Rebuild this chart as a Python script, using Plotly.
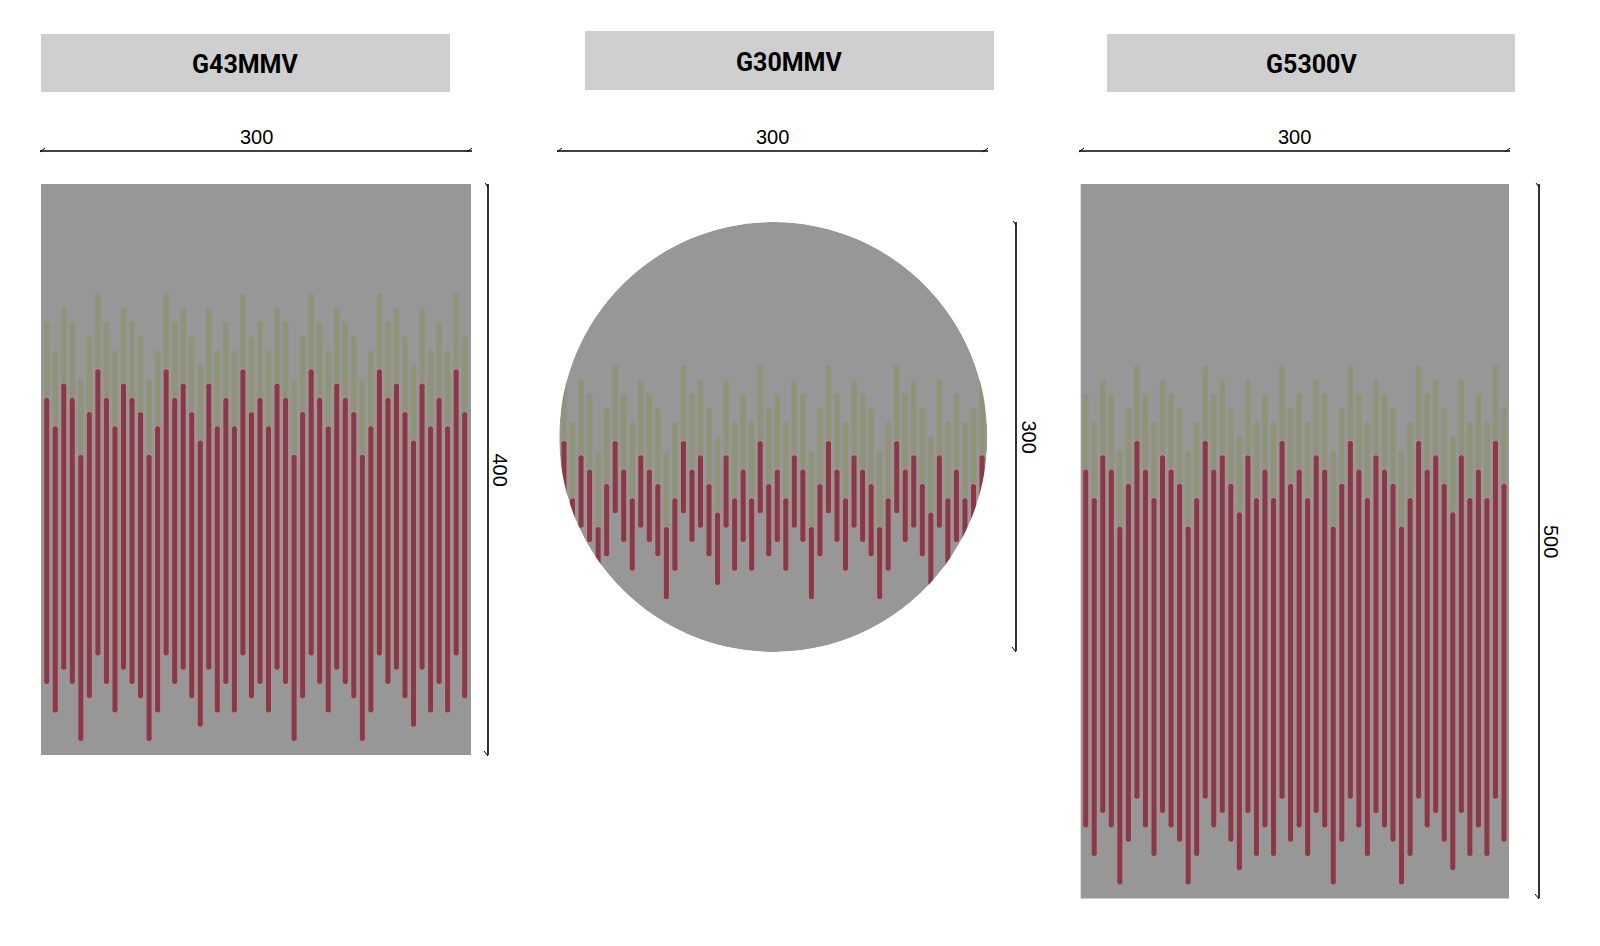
import numpy as np
import plotly.graph_objects as go

# page body has an 8px margin, so the figure is drawn 8px in from the window
PAGE_OFFSET = 8
FIG_W = 1600 - 2 * PAGE_OFFSET
FIG_H = 946 - 2 * PAGE_OFFSET

GRAY = "#979797"
GREEN = "#8f9479"
RED = "#873a47"
HALO = "#b28f90"
HEADER = "#cfcfcf"

bar_no = list(range(1, 51))

# top of the red part of each bar, mm from the bottom of the panel
g43_red_top = [250, 230, 260, 250, 210, 240, 270, 250, 230, 260, 250, 240, 210, 230, 270, 250, 260,
               240, 220, 260, 230, 250, 230, 270, 240, 250, 230, 260, 250, 210, 240, 270, 250, 230,
               260, 250, 240, 210, 230, 270, 250, 260, 240, 220, 260, 230, 250, 230, 270, 240]
g30_red_top = [147, 107, 137, 127, 87, 117, 147, 127, 107, 137, 127, 117, 87, 107, 147, 127, 137,
               117, 97, 137, 107, 127, 107, 147, 117, 127, 107, 137, 127, 87, 117, 147, 127, 107,
               137, 127, 117, 87, 107, 147, 127, 137, 117, 97, 137, 107, 127, 107, 117, 137]
g53_red_top = [300, 280, 310, 300, 260, 290, 320, 300, 280, 310, 300, 290, 260, 280, 320, 300, 310,
               290, 270, 310, 280, 300, 280, 320, 290, 300, 280, 310, 300, 260, 290, 320, 300, 280,
               310, 300, 290, 260, 280, 320, 300, 310, 290, 270, 310, 280, 300, 280, 320, 290]

# red length of the bars in each panel, green always sticks out by the same amount
red_lengths = [200, 50, 250]
green_extra = 53

names = ["G43MMV", "G30MMV", "G5300V"]
width_labels = ["300", "300", "300"]
height_labels = ["400", "300", "500"]
panel_heights = [400, 300, 500]

# round caps count towards the bar length, so the line itself stops short of the end
CAP_INSET = 1.5


def px_x(px):
    return (px - PAGE_OFFSET) / FIG_W


def px_y(py):
    return 1 - (py - PAGE_OFFSET) / FIG_H


def bar_segments(tops, lengths):
    xs, ys = [], []
    for n, top in zip(bar_no, tops):
        xs += [n, n, None]
        ys += [top - lengths + CAP_INSET, top - CAP_INSET, None]
    return xs, ys


def add_bars(fig, tops, red_len, row):
    xref, yref = ("x", "y") if row == 1 else (f"x{row}", f"y{row}")
    green_tops = [t + green_extra for t in tops]
    for vals, seg, color, w in [(green_tops, green_extra, GREEN, 5.5),
                                (tops, red_len, HALO, 7),
                                (tops, red_len, RED, 5)]:
        xs, ys = bar_segments(vals, seg)
        fig.add_trace(go.Scatter(x=xs, y=ys, mode="lines+markers", xaxis=xref, yaxis=yref,
                                 line=dict(color=color, width=w),
                                 marker=dict(color=color, size=w, line=dict(width=0)),
                                 showlegend=False, hoverinfo="skip"))


def add_line(fig, x0, y0, x1, y1, width):
    fig.add_shape(type="line", xref="paper", yref="paper", x0=px_x(x0), x1=px_x(x1),
                  y0=px_y(y0), y1=px_y(y1), line=dict(color="black", width=width))


def add_text(fig, x, y, text, size, family="Liberation Sans", angle=0):
    fig.add_annotation(x=px_x(x), y=px_y(y), text=text, textangle=angle, xref="paper", yref="paper",
                       xanchor="center", yanchor="middle", showarrow=False,
                       font=dict(family=family, size=size, color="black"))


def dim_h(fig, x0, x1, y, label):
    add_line(fig, x0, y, x1, y, 1.6)
    add_line(fig, x0, y + 1, x0 + 5, y - 3, 1)
    add_line(fig, x1 - 5, y + 1, x1, y - 3, 1)
    add_text(fig, (x0 + x1) / 2, y - 14, label, 20)


def dim_v(fig, x, y0, y1, label):
    add_line(fig, x, y0, x, y1, 1.6)
    add_line(fig, x - 3, y0 - 1, x, y0 + 3, 1)
    add_line(fig, x - 4, y1 - 4, x, y1 + 1, 1)
    add_text(fig, x + 12, (y0 + y1) / 2, label, 20, angle=90)


fig = go.Figure()

add_bars(fig, g43_red_top, red_lengths[0], 1)
add_bars(fig, g30_red_top, red_lengths[1], 2)
add_bars(fig, g53_red_top, red_lengths[2], 3)

# panel frames in window pixels: left, right, top, bottom
frames = [(41, 471, 184, 755), (559.3, 987.3, 222, 652), (1080.7, 1509, 184, 898.5)]
x_ranges = [(0.33, 50.74), (0.45, 50.62), (0.414, 50.586)]

for i, (frame, xr, h) in enumerate(zip(frames, x_ranges, panel_heights)):
    suffix = "" if i == 0 else str(i + 1)
    fig.update_layout({
        f"xaxis{suffix}": dict(domain=[px_x(frame[0]), px_x(frame[1])], range=list(xr), visible=False,
                               anchor=f"y{suffix}"),
        f"yaxis{suffix}": dict(domain=[px_y(frame[3]), px_y(frame[2])], range=[0, h], visible=False,
                               anchor=f"x{suffix}"),
    })

# rectangular panels
for suffix in ("", "3"):
    fig.add_shape(type="rect", xref=f"x{suffix} domain", yref=f"y{suffix} domain", x0=0, x1=1, y0=0, y1=1,
                  fillcolor=GRAY, line_width=0, layer="below")

# round panel, with a white ring on top that trims the bars to the circle
xr = x_ranges[1]
cx, rx = sum(xr) / 2, (xr[1] - xr[0]) / 2
fig.add_shape(type="circle", xref="x2", yref="y2", x0=xr[0], x1=xr[1], y0=0, y1=300,
              fillcolor=GRAY, line_width=0, layer="below")
t = np.linspace(0, 2 * np.pi, 361)
ring = f"M{xr[0]},0 L{xr[1]},0 L{xr[1]},300 L{xr[0]},300 Z M"
ring += " L".join(f"{cx + rx * np.cos(a):.3f},{150 + 150 * np.sin(a):.3f}" for a in t) + " Z"
fig.add_shape(type="path", path=ring, xref="x2", yref="y2", fillcolor="white", fillrule="evenodd",
              line_width=0, layer="above")

# header boxes
headers = [(41, 450, 34, 92), (585, 994, 31, 90), (1107, 1515, 34, 92)]
for name, (x0, x1, y0, y1) in zip(names, headers):
    fig.add_shape(type="rect", xref="paper", yref="paper", x0=px_x(x0), x1=px_x(x1), y0=px_y(y1), y1=px_y(y0),
                  fillcolor=HEADER, line_width=0, layer="below")
    add_text(fig, (x0 + x1) / 2, (y0 + y1) / 2 + 2, f"<b>{name}</b>", 25, family="Roboto")

dim_h(fig, 40, 472, 151, width_labels[0])
dim_h(fig, 557, 988, 151, width_labels[1])
dim_h(fig, 1079, 1510, 151, width_labels[2])
dim_v(fig, 488, 184, 755, height_labels[0])
dim_v(fig, 1016, 222, 651, height_labels[1])
dim_v(fig, 1539, 184, 898, height_labels[2])

fig.update_layout(width=FIG_W, height=FIG_H, autosize=False, margin=dict(l=0, r=0, t=0, b=0),
                  paper_bgcolor="white", plot_bgcolor="rgba(0,0,0,0)")

fig.write_html("out.html")
